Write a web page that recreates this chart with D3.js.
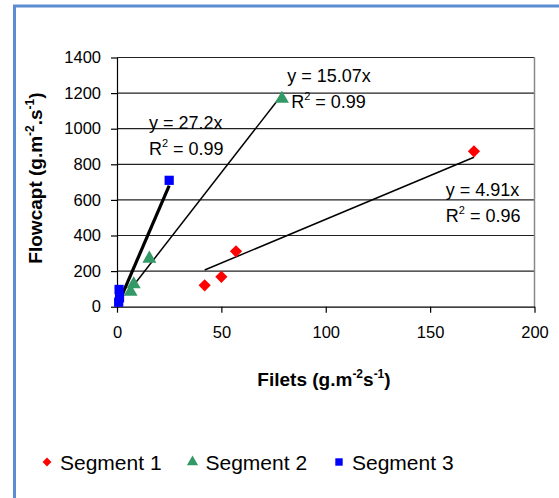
<!DOCTYPE html>
<html>
<head>
<meta charset="utf-8">
<script src="https://cdn.jsdelivr.net/npm/d3@7"></script>
<style>
  body { margin: 0; background: #fff; }
  svg text { font-family: "Liberation Sans", Arial, sans-serif; fill: #000; }
</style>
</head>
<body>
<div id="canvas"></div>
<script>
// values
const seg1X = [42, 50, 57, 171];
const seg1Y = [120, 168, 311, 873];
const seg2X = [6.5, 8, 15.5, 79];
const seg2Y = [84, 126, 270, 1168];
const seg3X = [0.8, 1.2, 1.0, 25];
const seg3Y = [25, 50, 97, 710];
const slopes = [4.91, 15.07, 27.2];
const eqLabels = ['y = 4.91x', 'y = 15.07x', 'y = 27.2x'];
const r2Labels = ['0.96', '0.99', '0.99'];
const seriesNames = ['Segment 1', 'Segment 2', 'Segment 3'];
const xTicks = [0, 50, 100, 150, 200];
const yTicks = [0, 200, 400, 600, 800, 1000, 1200, 1400];

const W = 559, H = 498;
const m = { left: 117, right: 24.5, top: 57.5, bottom: 191.3 };
const colors = ['#ff0000', '#339966', '#0000ff'];
const shapes = [d3.symbolDiamond2, d3.symbolTriangle, d3.symbolSquare];

const svg = d3.select('#canvas').append('svg')
    .attr('width', W)
    .attr('height', H);

// chart frame (only top and left edges are inside the picture)
svg.append('rect')
    .attr('x', 14.5).attr('y', 6)
    .attr('width', W + 20).attr('height', H + 20)
    .attr('fill', 'none')
    .attr('stroke', '#5b8dd0')
    .attr('stroke-width', 3);

const x = d3.scaleLinear().domain([0, 200]).range([m.left, W - m.right]);
const y = d3.scaleLinear().domain([0, 1400]).range([H - m.bottom, m.top]);

// gridlines
svg.append('g')
    .selectAll('line')
    .data(yTicks.slice(1))
    .enter().append('line')
        .attr('x1', x(0)).attr('x2', x(200))
        .attr('y1', d => y(d)).attr('y2', d => y(d))
        .attr('stroke', '#222')
        .attr('stroke-width', 1.2);

// right border of plot area
svg.append('line')
    .attr('x1', x(200)).attr('x2', x(200))
    .attr('y1', y(1400)).attr('y2', y(0))
    .attr('stroke', '#888')
    .attr('stroke-width', 1.5);

const xAxis = svg.append('g')
    .attr('transform', 'translate(0,' + y(0) + ')')
    .call(d3.axisBottom(x).tickValues(xTicks).tickFormat(d3.format('d'))
        .tickSize(6).tickSizeOuter(0).tickPadding(14));
const yAxis = svg.append('g')
    .attr('transform', 'translate(' + x(0) + ',0)')
    .call(d3.axisLeft(y).tickValues(yTicks).tickFormat(d3.format('d'))
        .tickSize(6).tickSizeOuter(0).tickPadding(10));
[xAxis, yAxis].forEach(a => {
    a.selectAll('path, line').attr('stroke', '#000').attr('stroke-width', 1.2);
    a.selectAll('text').style('font-size', '16.5px').style('font-family', '"Liberation Sans", Arial, sans-serif');
});

// trend lines
const series = [[seg1X, seg1Y], [seg2X, seg2Y], [seg3X, seg3Y]];
const trendWidths = [1.5, 1.5, 3.2];
series.forEach(function(s, i) {
    const lo = d3.min(s[0]), hi = d3.max(s[0]);
    svg.append('line')
        .attr('x1', x(lo)).attr('y1', y(slopes[i] * lo))
        .attr('x2', x(hi)).attr('y2', y(slopes[i] * hi))
        .attr('stroke', '#000')
        .attr('stroke-width', trendWidths[i]);
});

// markers
const markerSizes = [95, 85, 85];
series.forEach(function(s, i) {
    svg.append('g')
        .selectAll('path')
        .data(d3.zip(s[0], s[1]))
        .enter().append('path')
            .attr('transform', d => 'translate(' + x(d[0]) + ',' + y(d[1]) + ')')
            .attr('d', d3.symbol().type(shapes[i]).size(markerSizes[i]))
            .attr('fill', colors[i]);
});

// trend line labels, anchored in data units
const labelPos = [[157.5, 620], [81.5, 1262], [15.3, 1000]];
labelPos.forEach(function(p, i) {
    const g = svg.append('g').style('font-size', '18px');
    g.append('text')
        .attr('x', x(p[0])).attr('y', y(p[1]))
        .text(eqLabels[i]);
    const r = g.append('text')
        .attr('x', x(p[0]) + (i === 1 ? 4 : 0)).attr('y', y(p[1]) + 26);
    r.append('tspan').text('R');
    r.append('tspan').attr('dy', -8).style('font-size', '11px').text('2');
    r.append('tspan').attr('dy', 8).text(' = ' + r2Labels[i]);
});

// axis titles
function titleText(sel, parts) {
    parts.forEach(function(p) {
        const t = sel.append('tspan').text(p[0]);
        if (p[1] === 'sup') t.attr('dy', -8).style('font-size', '12px');
        if (p[1] === 'base') t.attr('dy', 8);
    });
}
const xt = svg.append('text')
    .attr('x', 324).attr('y', 386)
    .attr('text-anchor', 'middle')
    .style('font-size', '19px').style('font-weight', 'bold');
titleText(xt, [['Filets (g.m'], ['-2', 'sup'], ['s', 'base'], ['-1', 'sup'], [')', 'base']]);

const yt = svg.append('text')
    .attr('transform', 'translate(42,178) rotate(-90)')
    .attr('text-anchor', 'middle')
    .style('font-size', '19px').style('font-weight', 'bold');
titleText(yt, [['Flowcapt (g.m'], ['-2', 'sup'], ['.s', 'base'], ['-1', 'sup'], [')', 'base']]);

// legend
const legendX = [47, 192.5, 339];
const legendSizes = [50, 55, 55];
seriesNames.forEach(function(name, i) {
    svg.append('path')
        .attr('transform', 'translate(' + legendX[i] + ',462)')
        .attr('d', d3.symbol().type(shapes[i]).size(legendSizes[i]))
        .attr('fill', colors[i]);
    svg.append('text')
        .attr('x', legendX[i] + 13).attr('y', 470)
        .style('font-size', '21px')
        .text(name);
});
</script>
</body>
</html>
